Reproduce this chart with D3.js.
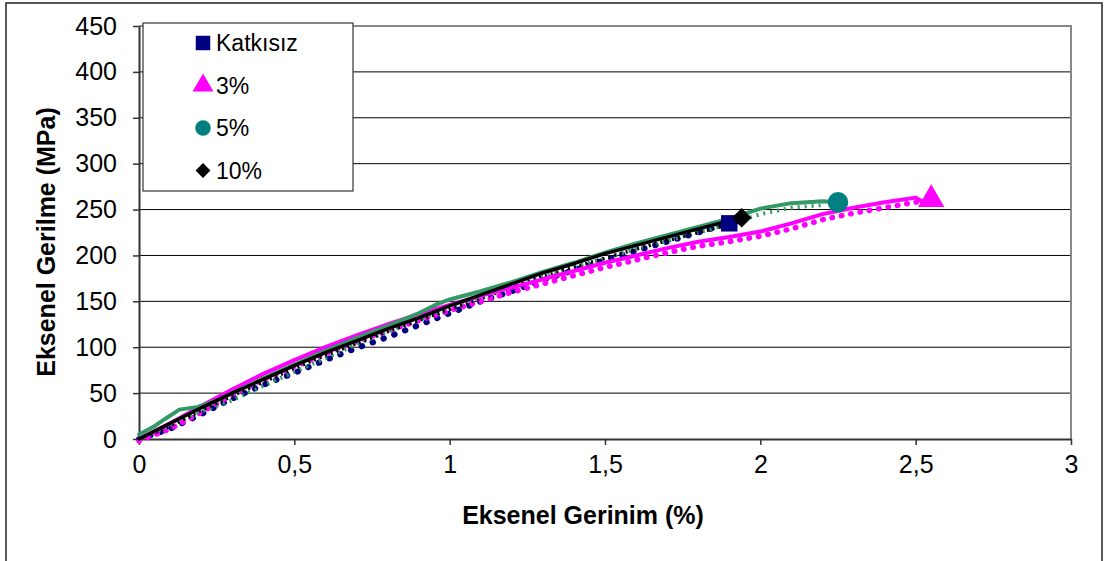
<!DOCTYPE html>
<html>
<head>
<meta charset="utf-8">
<script src="https://cdn.jsdelivr.net/npm/d3@7"></script>
<style>
  body { margin: 0; background: #fff; }
  text { font-family: "Liberation Sans", Arial, sans-serif; fill: #000; }
</style>
</head>
<body>
<div id="chart"></div>
<script>
// series names + end markers
const seriesNames = ["Katkısız", "3%", "5%", "10%"];
const endX = [1.9, 2.55, 2.25, 1.94];
const endY = [235, 261, 258, 241];

// Katkısız (dotted only)
const xK = [0,0.1,0.2,0.3,0.4,0.5,0.6,0.7,0.8,0.9,1.0,1.1,1.2,1.3,1.4,1.5,1.6,1.7,1.8,1.9];
const yK = [0,11,27,44,59,72,86,99,111,124,137,150,161,173,184,195,205,215,225,235];

// 3%
const x3 = [0,0.1,0.2,0.3,0.4,0.5,0.6,0.7,0.8,0.9,1.0,1.1,1.2,1.3,1.4,1.5,1.6,1.7,1.8,1.9,2.0,2.1,2.2,2.3,2.4,2.5,2.52];
const y3a = [0,17,36,54,71,86,100,113,125,136,146,156,165,174,183,192,200,208,215,220,226,235,245,252,258,263,259];
const y3b = [-2,11,29,48,65,79,93,106,118,129,140,150,160,169,178,187,195,203,210,215,221,229,239,246,252,258,260];

// 5%
const x5a = [0,0.05,0.08,0.13,0.19,0.25,0.3,0.4,0.5,0.6,0.7,0.8,0.9,0.96,1.0,1.1,1.2,1.3,1.4,1.5,1.6,1.7,1.8,1.9,2.0,2.1,2.2,2.25];
const y5a = [5,14,21,32,35,42,50,66,81,96,110,123,137,147,152,161,171,182,192,203,213,222,231,240,251,257,259,258];
const x5b = [0,0.1,0.2,0.3,0.4,0.5,0.6,0.7,0.8,0.9,1.0,1.1,1.2,1.3,1.4,1.5,1.6,1.7,1.8,1.9,2.0,2.1,2.2];
const y5b = [0,15,30,42,58,73,88,103,117,130,143,155,166,177,187,197,207,216,225,234,245,252,255];

// 10%
const x10 = [0,0.1,0.2,0.3,0.4,0.5,0.6,0.7,0.8,0.9,1.0,1.1,1.2,1.3,1.4,1.5,1.6,1.7,1.8,1.94];
const y10a = [0,17,34,50,65,80,94,107,120,132,145,157,169,181,191,202,211,220,229,241];
const y10b = [0,14,31,47,62,77,91,104,117,129,141,153,165,177,187,197,207,216,225,237];

const xTicks = [0,0.5,1,1.5,2,2.5,3];
const yTicks = [0,50,100,150,200,250,300,350,400,450];

const width = 1107, height = 561;
const margin = {left: 139, right: 36, top: 26, bottom: 122};

const svg = d3.select("#chart").append("svg")
    .attr("width", width)
    .attr("height", height);

// outer chart border
svg.append("rect")
    .attr("x", 6).attr("y", 3)
    .attr("width", 1096).attr("height", 570)
    .attr("fill", "#fff")
    .attr("stroke", "#222").attr("stroke-width", 1.5);

const x = d3.scaleLinear().domain([0, 3]).range([margin.left, width - margin.right]);
const y = d3.scaleLinear().domain([0, 450]).range([height - margin.bottom, margin.top]);

// gridlines
svg.append("g").selectAll("line")
    .data(yTicks.filter(d => d > 0 && d < 450))
    .enter().append("line")
    .attr("x1", x(0)).attr("x2", x(3))
    .attr("y1", d => y(d)).attr("y2", d => y(d))
    .attr("stroke", "#000").attr("stroke-width", 1);

// plot frame top/right (grey)
svg.append("path")
    .attr("d", `M${x(0)},${y(450)}H${x(3)}V${y(0)}`)
    .attr("fill", "none").attr("stroke", "#888").attr("stroke-width", 2);

// axes
const fmt = d => String(d).replace(".", ",");
const xAxis = svg.append("g")
    .attr("transform", `translate(0,${y(0)})`)
    .call(d3.axisBottom(x).tickValues(xTicks).tickFormat(fmt).tickSize(6).tickSizeOuter(0));
const yAxis = svg.append("g")
    .attr("transform", `translate(${x(0)},0)`)
    .call(d3.axisLeft(y).tickValues(yTicks).tickSize(6).tickSizeOuter(0));

[xAxis, yAxis].forEach(a => {
    a.select(".domain").attr("stroke", "#333").attr("stroke-width", 2);
    a.selectAll(".tick line").attr("stroke", "#333").attr("stroke-width", 1.5);
    a.selectAll("text").attr("font-size", 25).attr("font-family", "Liberation Sans, Arial").attr("fill", "#000");
});
xAxis.selectAll("text").attr("y", 16);
yAxis.selectAll("text").attr("x", -22);

// axis titles
svg.append("text")
    .attr("x", 583).attr("y", 524)
    .attr("text-anchor", "middle")
    .attr("font-size", 25).attr("font-weight", "bold")
    .text("Eksenel Gerinim (%)");
svg.append("text")
    .attr("transform", "translate(55,242) rotate(-90)")
    .attr("text-anchor", "middle")
    .attr("font-size", 25).attr("font-weight", "bold")
    .text("Eksenel Gerilme (MPa)");

const line = d3.line().x(d => x(d[0])).y(d => y(d[1]));
const pairs = (xs, ys) => xs.map((v, i) => [v, ys[i]]);

const curves = [
    {xs: xK, ys: yK, color: "#000080", dash: "0.5,11", w: 6, cap: "round"},
    {xs: x3, ys: y3b, color: "#ff00ff", dash: "0.5,9", w: 5.5, cap: "round"},
    {xs: x5b, ys: y5b, color: "#339966", dash: "2,5", w: 4, cap: "butt"},
    {xs: x10, ys: y10b, color: "#000", dash: "2,4", w: 3.5, cap: "butt"},
    {xs: x3, ys: y3a, color: "#ff00ff", dash: null, w: 4, cap: "round"},
    {xs: x5a, ys: y5a, color: "#339966", dash: null, w: 4, cap: "round"},
    {xs: x10, ys: y10a, color: "#000", dash: null, w: 3.5, cap: "round"}
];

svg.append("g").selectAll("path")
    .data(curves)
    .enter().append("path")
    .attr("d", d => line(pairs(d.xs, d.ys)))
    .attr("fill", "none")
    .attr("stroke", d => d.color)
    .attr("stroke-width", d => d.w)
    .attr("stroke-linecap", d => d.cap)
    .attr("stroke-linejoin", "round")
    .attr("stroke-dasharray", d => d.dash);

// marker shapes (diamond = square turned 45deg)
const markerColors = ["#000080", "#ff00ff", "#008080", "#000"];
const markerTypes = [d3.symbolSquare, d3.symbolTriangle, d3.symbolCircle, d3.symbolSquare];
const markerRot = [0, 0, 0, 45];
const markerSizes = [270, 300, 330, 190];

svg.append("g").selectAll("path")
    .data(endX.map((v, i) => ({x: v, y: endY[i], i})))
    .enter().append("path")
    .attr("transform", d => `translate(${x(d.x)},${y(d.y)}) rotate(${markerRot[d.i]})`)
    .attr("d", d => d3.symbol().type(markerTypes[d.i]).size(markerSizes[d.i])())
    .attr("fill", d => markerColors[d.i]);

// legend
const legend = svg.append("g");
legend.append("rect")
    .attr("x", 143).attr("y", 23)
    .attr("width", 210).attr("height", 168)
    .attr("fill", "#fff").attr("stroke", "#333").attr("stroke-width", 1.2);

const rows = legend.selectAll("g.row")
    .data(seriesNames)
    .enter().append("g")
    .attr("class", "row")
    .attr("transform", (d, i) => `translate(203,${43 + i * 42.5})`);

rows.append("path")
    .attr("transform", (d, i) => `rotate(${markerRot[i]})`)
    .attr("d", (d, i) => d3.symbol().type(markerTypes[i]).size([210, 190, 190, 110][i])())
    .attr("fill", (d, i) => markerColors[i]);

rows.append("text")
    .attr("x", 13).attr("dy", "0.36em")
    .attr("font-size", 23)
    .text(d => d);
</script>
</body>
</html>
